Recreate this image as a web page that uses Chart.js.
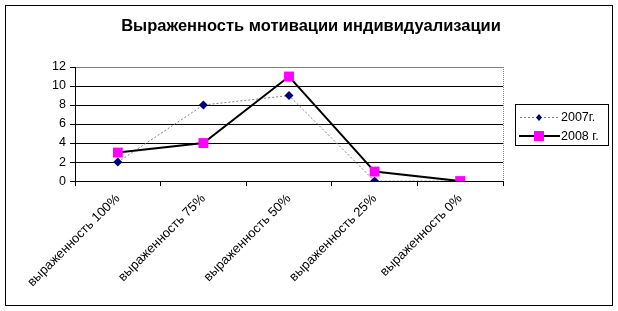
<!DOCTYPE html>
<html><head><meta charset="utf-8">
<script src="https://cdn.jsdelivr.net/npm/chart.js@4/dist/chart.umd.min.js"></script>
<style>html,body{margin:0;padding:0;background:#fff}#wrap{width:618px;height:311px;position:relative}</style>
</head><body><div id="wrap"><canvas id="c" width="618" height="311"></canvas></div>
<script>
const chartTitle = "Выраженность мотивации индивидуализации";
const categories = ["выраженность 100%", "выраженность 75%", "выраженность 50%", "выраженность 25%", "выраженность 0%"];
const series2007Label = "2007г.";
const series2007 = [2, 8, 9, 0, 0];
const series2008Label = "2008 г.";
const series2008 = [3, 4, 11, 1, 0];
const yTicks = [0, 2, 4, 6, 8, 10, 12];

const FONT = "'Liberation Sans', Arial, sans-serif";

const decor = {
  id: 'decor',
  beforeDraw(chart) {
    const ctx = chart.ctx;
    ctx.save();
    ctx.fillStyle = '#fff';
    ctx.fillRect(0, 0, chart.width, chart.height);
    ctx.restore();
  },
  afterDraw(chart) {
    const ctx = chart.ctx, a = chart.chartArea;
    ctx.save();
    ctx.strokeStyle = '#808080';
    ctx.lineWidth = 1;
    ctx.setLineDash([1, 1]);
    ctx.beginPath();
    ctx.moveTo(Math.round(a.right) + 0.5, a.top);
    ctx.lineTo(Math.round(a.right) + 0.5, a.bottom);
    ctx.stroke();
    ctx.setLineDash([]);
    ctx.strokeStyle = '#000';
    ctx.strokeRect(5.5, 5.5, 607, 300);
    ctx.fillStyle = '#000';
    ctx.font = "bold 16.5px " + FONT;
    ctx.textAlign = 'center';
    ctx.textBaseline = 'middle';
    ctx.fillText(chartTitle, 311, 26);
    ctx.strokeRect(515.5, 104.5, 93, 41);
    ctx.font = "12.5px " + FONT;
    ctx.textAlign = 'left';
    ctx.strokeStyle = '#808080';
    ctx.setLineDash([2, 2]);
    ctx.beginPath(); ctx.moveTo(520, 117.5); ctx.lineTo(559, 117.5); ctx.stroke();
    ctx.setLineDash([]);
    ctx.fillStyle = '#000080';
    ctx.beginPath(); ctx.moveTo(539, 114); ctx.lineTo(542, 117.5); ctx.lineTo(539, 121); ctx.lineTo(536, 117.5); ctx.closePath(); ctx.fill();
    ctx.fillStyle = '#000';
    ctx.fillText(series2007Label, 561, 118);
    ctx.strokeStyle = '#000';
    ctx.lineWidth = 2;
    ctx.beginPath(); ctx.moveTo(519, 136); ctx.lineTo(560, 136); ctx.stroke();
    ctx.fillStyle = '#ff00ff';
    ctx.fillRect(534, 131, 10, 10);
    ctx.fillStyle = '#000';
    ctx.fillText(series2008Label, 561, 137);
    ctx.restore();
  }
};

new Chart(document.getElementById('c'), {
  type: 'line',
  data: {
    labels: categories,
    datasets: [
      {
        label: series2007Label, data: series2007, order: 2,
        borderColor: '#808080', borderWidth: 1, borderDash: [2, 2],
        pointStyle: 'rectRot', pointRadius: 4.5, pointBackgroundColor: '#000080', pointBorderColor: '#000080', pointBorderWidth: 0,
        tension: 0, fill: false
      },
      {
        label: series2008Label, data: series2008, order: 1,
        borderColor: '#000', borderWidth: 2,
        pointStyle: 'rect', pointRadius: 7, pointBackgroundColor: '#ff00ff', pointBorderColor: '#ff00ff', pointBorderWidth: 0,
        tension: 0, fill: false
      }
    ]
  },
  options: {
    responsive: false, animation: false, devicePixelRatio: 1,
    layout: { padding: { left: 0, right: 115, top: 67, bottom: 16 } },
    plugins: { legend: { display: false }, title: { display: false }, tooltip: { enabled: false } },
    scales: {
      x: {
        offset: true,
        grid: { offset: true, drawOnChartArea: false, drawTicks: true, tickLength: 5, color: '#000' },
        border: { color: '#000', width: 1 },
        ticks: { color: '#000', font: { family: FONT, size: 13 }, maxRotation: 45, minRotation: 45, autoSkip: false, padding: 5 }
      },
      y: {
        min: 0, max: 12,
        afterBuildTicks(s) { s.ticks = yTicks.map(v => ({ value: v })); },
        afterFit(s) { s.width = 75; },
        grid: {
          color: c => (c.tick && c.tick.value === 12) ? '#808080' : '#000',
          tickLength: 5, drawTicks: true, tickColor: '#000'
        },
        border: { color: '#000', width: 1 },
        ticks: { color: '#000', font: { family: FONT, size: 12.5 }, padding: 4 }
      }
    }
  },
  plugins: [decor]
});
</script></body></html>
